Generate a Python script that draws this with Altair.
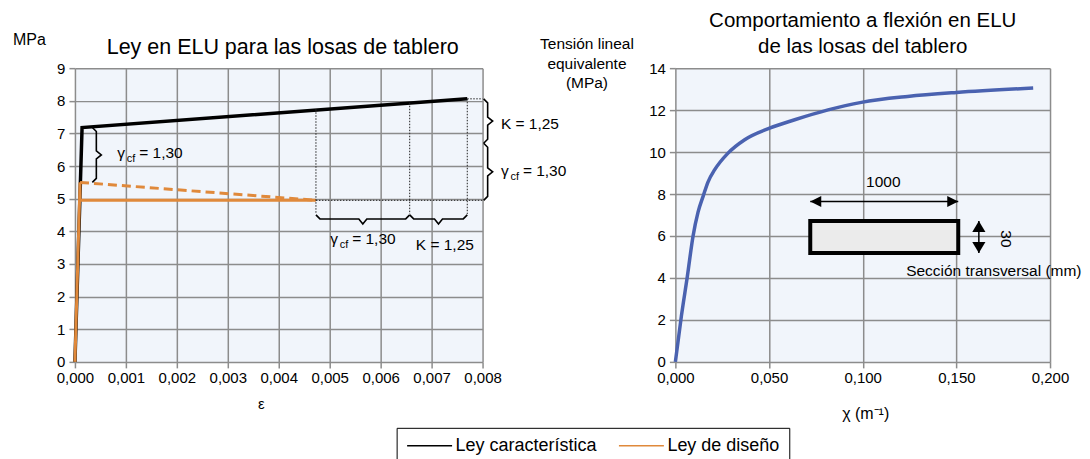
import altair as alt
import pandas as pd

FONT = "Liberation Sans"
BLACK = "#000000"
ORANGE = "#e0893b"
BLUE = "#4a62b0"
GRID = "#8c8c8c"

# ---------------- Left chart data ----------------
series_names = ["Ley característica", "Ley de diseño"]
car_eps = [0.0, 0.00014, 0.0077]
car_mpa = [0.0, 7.18, 8.06]
dis_eps = [0.0, 0.0001, 0.0001, 0.00473]
dis_mpa = [0.0, 5.5, 4.95, 4.95]
dash_eps = [0.0001, 0.00473]
dash_mpa = [5.5, 4.95]

vdot_eps = [0.00473, 0.00657, 0.0077]
vdot_top = [7.74, 7.94, 8.06]
vdot_bot = [4.53, 4.53, 4.53]
hdot_mpa = [4.95, 8.06]
hdot_from = [0.00473, 0.0077]
hdot_to = [0.0080, 0.0080]

vbrace_x = [0.00042, 0.0081, 0.0081]
vbrace_top = [7.18, 8.06, 6.70]
vbrace_bot = [5.50, 6.70, 4.95]
hbrace_y = [4.38, 4.38]
hbrace_left = [0.00473, 0.00657]
hbrace_right = [0.00657, 0.0077]

gamma_eps = [0.00083, 0.00501, 0.00836]
gamma_mpa = [6.41, 3.77, 5.85]
k_eps = [0.00669, 0.00836]
k_mpa = [3.58, 7.30]

eps_ticks = [0.0, 0.001, 0.002, 0.003, 0.004, 0.005, 0.006, 0.007, 0.008]
mpa_ticks = [0, 1, 2, 3, 4, 5, 6, 7, 8, 9]

# ---------------- Right chart data ----------------
chi = [0.0, 0.0032, 0.0064, 0.0094, 0.0121, 0.0148, 0.0174, 0.021, 0.0281, 0.037,
       0.0503, 0.0637, 0.0815, 0.0993, 0.124, 0.150, 0.191]
sig = [0.0, 2.18, 4.08, 5.98, 7.14, 7.89, 8.57, 9.16, 9.95, 10.59,
       11.14, 11.54, 12.01, 12.37, 12.65, 12.84, 13.05]
chi_ticks = [0.0, 0.05, 0.10, 0.15, 0.20]
sig_ticks = [0, 2, 4, 6, 8, 10, 12, 14]

sec_chi = [0.072, 0.151]
sec_sig = [5.19, 6.71]
arrow_h_sig = 7.65
arrow_v_chi = 0.162

LW, LH = 408, 294
RW, RH = 375, 294
EPS_MAX, MPA_MAX = 0.008, 9
CHI_MAX, SIG_MAX = 0.2, 14
px_eps = EPS_MAX / LW
px_mpa = MPA_MAX / LH

comma = "replace(datum.label, '.', ',')"

# ---------- build frames ----------
lines = pd.DataFrame(
    [dict(eps=e, mpa=m, serie=series_names[0], i=k) for k, (e, m) in enumerate(zip(car_eps, car_mpa))]
)
dlines = pd.DataFrame(
    [dict(eps=e, mpa=m, serie=series_names[1], i=k) for k, (e, m) in enumerate(zip(dis_eps, dis_mpa))]
)
dashdf = pd.DataFrame(dict(eps=dash_eps, mpa=dash_mpa))

vdot = pd.DataFrame(dict(eps=vdot_eps, mpa=vdot_top, bot=vdot_bot))
hdot = pd.DataFrame(dict(mpa=hdot_mpa, eps=hdot_from, e2=hdot_to))

brace_rows = []
a_x, a_y, w_x, w_y = 4 * px_eps, 4 * px_mpa, 5 * px_eps, 5 * px_mpa
for b, (x0, yt, yb) in enumerate(zip(vbrace_x, vbrace_top, vbrace_bot)):
    ym = (yt + yb) / 2
    pts = [(x0 - a_x, yt), (x0, yt - a_y), (x0, ym + a_y), (x0 + w_x, ym),
           (x0, ym - a_y), (x0, yb + a_y), (x0 - a_x, yb)]
    for k, (x, y) in enumerate(pts):
        brace_rows.append(dict(b=f"v{b}", i=k, eps=x, mpa=y))
for b, (y0, xl, xr) in enumerate(zip(hbrace_y, hbrace_left, hbrace_right)):
    xm = (xl + xr) / 2
    pts = [(xl, y0 + a_y), (xl + a_x, y0), (xm - a_x, y0), (xm, y0 - w_y),
           (xm + a_x, y0), (xr - a_x, y0), (xr, y0 + a_y)]
    for k, (x, y) in enumerate(pts):
        brace_rows.append(dict(b=f"h{b}", i=k, eps=x, mpa=y))
braces = pd.DataFrame(brace_rows)

gam = pd.DataFrame(dict(eps=gamma_eps, mpa=gamma_mpa))
kdf = pd.DataFrame(dict(eps=k_eps, mpa=k_mpa))

axL_x = alt.Axis(values=eps_ticks, format=".3f", labelExpr=comma, title="ε",
                 labelOverlap=False, labelFlush=False, labelPadding=3,
                 titleX=186, titleY=42, titleFontSize=15, titleFontWeight="normal",
                 titleAlign="center", titleBaseline="middle")
axL_y = alt.Axis(values=mpa_ticks, tickCount=10, title="MPa", titleAngle=0, titleX=-46, titleY=-29,
                 labelOverlap=False, labelFlush=False,
                 titleAlign="center", titleBaseline="middle", titleFontSize=16,
                 titleFontWeight="normal")
sxL = alt.Scale(domain=[0, EPS_MAX], nice=False)
syL = alt.Scale(domain=[0, MPA_MAX], nice=False)
xL = alt.X("eps:Q", scale=sxL, axis=axL_x)
yL = alt.Y("mpa:Q", scale=syL, axis=axL_y)

color = alt.Color("serie:N", scale=alt.Scale(domain=series_names, range=[BLACK, ORANGE]),
                  legend=alt.Legend(title=None, orient="none", legendX=322, legendY=360,
                                    direction="horizontal", symbolType="M-1,0L5,0", symbolSize=225,
                                    symbolStrokeWidth=1.5, labelFontSize=18, labelFont=FONT,
                                    labelColor="black", labelOffset=32, columnPadding=18,
                                    padding=9, strokeColor="black", fillColor="white"))

black_line = alt.Chart(lines).mark_line(strokeWidth=3.5, strokeJoin="miter", clip=False).encode(
    x=xL, y=yL, color=color, order="i:Q")
orange_line = alt.Chart(dlines).mark_line(strokeWidth=3).encode(
    x=xL, y=yL, color=color, order="i:Q")
dash_line = alt.Chart(dashdf).mark_line(strokeWidth=3, strokeDash=[9, 5], color=ORANGE).encode(
    x=xL, y=yL)
vdots = alt.Chart(vdot).mark_rule(strokeDash=[1.5, 1.5], strokeWidth=1, color="#222").encode(
    x=xL, y=yL, y2="bot:Q")
hdots = alt.Chart(hdot).mark_rule(strokeDash=[1.5, 1.5], strokeWidth=1, color="#222", clip=False).encode(
    x=xL, x2="e2:Q", y=yL)
brace_l = alt.Chart(braces).mark_line(strokeWidth=1.6, color="black", clip=False).encode(
    x=xL, y=yL, detail="b:N", order="i:Q")

tstyle = dict(font=FONT, fontSize=15.5, color="black", baseline="middle", align="left")
g1 = alt.Chart(gam).mark_text(text="γ", **tstyle).encode(x=xL, y=yL)
g2 = alt.Chart(gam).mark_text(text="cf", dx=9.5, dy=6, font=FONT, fontSize=11, color="black",
                              baseline="middle", align="left").encode(x=xL, y=yL)
g3 = alt.Chart(gam).mark_text(text="= 1,30", dx=22, **tstyle).encode(x=xL, y=yL)
k1 = alt.Chart(kdf).mark_text(text="K = 1,25", **tstyle).encode(x=xL, y=yL)

left = alt.layer(black_line, orange_line, dash_line, vdots, hdots, brace_l, g1, g2, g3, k1).properties(
    width=LW, height=LH,
    title=alt.TitleParams("Ley en ELU para las losas de tablero", fontSize=21.5, font=FONT,
                          fontWeight="normal", anchor="middle", offset=-27, dx=4, color="black"))

# ---------- right chart ----------
curve = pd.DataFrame(dict(chi=chi, sig=sig))
xR = alt.X("chi:Q", scale=alt.Scale(domain=[0, CHI_MAX], nice=False),
           axis=alt.Axis(values=chi_ticks, format=".3f", labelExpr=comma, title="χ (m⁻¹)",
                         labelOverlap=False, labelFlush=False, labelPadding=3,
                         titleFontSize=16, titleFontWeight="normal", titleX=190, titleY=52,
                         titleAlign="center", titleBaseline="middle"))
yR = alt.Y("sig:Q", scale=alt.Scale(domain=[0, SIG_MAX], nice=False),
           axis=alt.Axis(values=sig_ticks, title=["Tensión lineal", "equivalente", "(MPa)"],
                         labelOverlap=False, labelFlush=False,
                         titleAngle=0, titleX=-89, titleY=-31.5, titleAlign="center",
                         titleBaseline="top", titleFontSize=15.5, titleLineHeight=19.5,
                         titleFontWeight="normal"))
curve_l = alt.Chart(curve).mark_line(color=BLUE, strokeWidth=3.5, interpolate="monotone").encode(x=xR, y=yR)

sec = pd.DataFrame(dict(c1=[sec_chi[0]], c2=[sec_chi[1]], s1=[sec_sig[0]], s2=[sec_sig[1]]))
rect = alt.Chart(sec).mark_rect(fill="#ebebeb", stroke="black", strokeWidth=4).encode(
    x="c1:Q", x2="c2:Q", y="s1:Q", y2="s2:Q")
harrow = pd.DataFrame(dict(c1=[sec_chi[0]], c2=[sec_chi[1]], s=[arrow_h_sig]))
hline = alt.Chart(harrow).mark_rule(color="black", strokeWidth=1.5).encode(x="c1:Q", x2="c2:Q", y="s:Q")
vline = alt.Chart(pd.DataFrame(dict(c=[arrow_v_chi], s1=[sec_sig[0]], s2=[sec_sig[1]]))).mark_rule(
    color="black", strokeWidth=1.5).encode(x="c:Q", y="s1:Q", y2="s2:Q")
heads = pd.DataFrame(dict(
    c=[sec_chi[0], sec_chi[1], arrow_v_chi, arrow_v_chi],
    s=[arrow_h_sig, arrow_h_sig, sec_sig[1], sec_sig[0]],
    shp=["M0,0L2,-1L2,1Z", "M0,0L-2,-1L-2,1Z", "M0,0L-1.2,2L1.2,2Z", "M0,0L-1.2,-2L1.2,-2Z"]))
head_l = alt.Chart(heads).mark_point(filled=True, color="black", size=121, opacity=1).encode(
    x="c:Q", y="s:Q", shape=alt.Shape("shp:N", scale=None))

labels_r = pd.DataFrame(dict(
    c=[0.111, 0.1763, 0.1232], s=[8.57, 5.86, 4.33],
    t=["1000", "30", "Sección transversal (mm)"]))
t1000 = alt.Chart(labels_r.iloc[[0]]).mark_text(font=FONT, fontSize=15.5, color="black",
                                                 align="center", baseline="middle").encode(
    x="c:Q", y="s:Q", text="t:N")
t30 = alt.Chart(labels_r.iloc[[1]]).mark_text(font=FONT, fontSize=15.5, color="black", angle=90,
                                               align="center", baseline="middle").encode(
    x="c:Q", y="s:Q", text="t:N")
tsec = alt.Chart(labels_r.iloc[[2]]).mark_text(font=FONT, fontSize=15.5, color="black", clip=False,
                                                align="left", baseline="middle").encode(
    x="c:Q", y="s:Q", text="t:N")

right = alt.layer(curve_l, rect, hline, vline, head_l, t1000, t30, tsec).properties(
    width=RW, height=RH,
    title=alt.TitleParams(["Comportamiento a flexión en ELU", "de las losas del tablero"],
                          fontSize=20.5, font=FONT, fontWeight="normal", anchor="middle",
                          offset=-21, lineHeight=26, color="black"))

chart = alt.hconcat(left, right, spacing=193, bounds="flush").properties(
    padding={"left": 4, "top": 3, "right": 0, "bottom": 0}
).configure_view(fill="#f1f5fb", strokeWidth=0).configure_axis(
    grid=True, gridColor=GRID, gridWidth=1.5, domain=False, tickColor=GRID, tickSize=6,
    tickWidth=1.5, labelFont=FONT, labelFontSize=15, labelColor="black", labelPadding=4,
    titleFont=FONT, titleColor="black"
)

chart.save("out.html", embed_options={"renderer": "svg", "actions": False})
